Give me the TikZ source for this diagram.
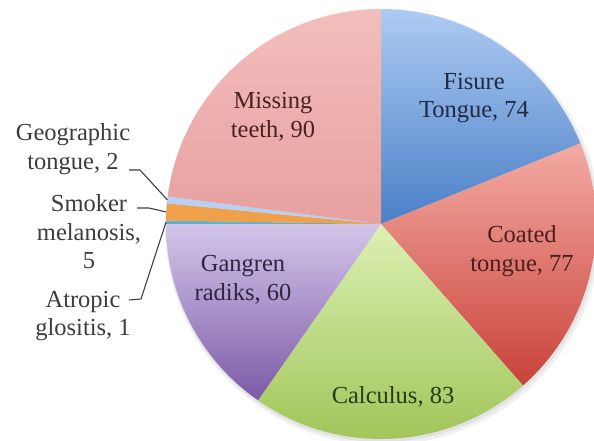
\documentclass[tikz,border=0pt]{standalone}
\usepackage{fontspec}
\setmainfont{Liberation Serif}
\usetikzlibrary{calc}
\definecolor{fisuretop}{HTML}{AECBF2}
\definecolor{fisurebot}{HTML}{4A7FC7}
\definecolor{coatedtop}{HTML}{F4ABA3}
\definecolor{coatedbot}{HTML}{C8423A}
\definecolor{calctop}{HTML}{DDF0B2}
\definecolor{calcbot}{HTML}{9CC254}
\definecolor{gangtop}{HTML}{D3C6EA}
\definecolor{gangbot}{HTML}{7C5AA6}
\definecolor{misstop}{HTML}{F3BEBD}
\definecolor{missbot}{HTML}{E6A09F}
\definecolor{smoker}{HTML}{F0A04A}
\definecolor{geo}{HTML}{B8D0F2}
\definecolor{atropic}{HTML}{5FB2CC}
\definecolor{labelgray}{HTML}{3C3C3C}
\definecolor{fisuretext}{HTML}{1F2B45}
\definecolor{coatedtext}{HTML}{4A1F1D}
\definecolor{calctext}{HTML}{2B3A14}
\definecolor{gangtext}{HTML}{2D2542}
\definecolor{misstext}{HTML}{4A2121}
\tikzstyle{inlabel}=[align=center,inner sep=0pt,font=\fontsize{24.5}{28.5}\selectfont]
\tikzstyle{outlabel}=[inlabel,text=labelgray]
\tikzstyle{leader}=[draw=black!75,line width=1.1pt]

\begin{document}
\begin{tikzpicture}[x=1pt,y=1pt]
\useasboundingbox (0,0) rectangle (594,441);

\coordinate (c) at (381,217);

% soft shadow
\fill[black,opacity=0.06] (383,214) circle (218pt);
\fill[black,opacity=0.06] (382,215) circle (216pt);

% slices
\shade[top color=fisuretop,bottom color=fisurebot] (c) -- ++(90:215pt) arc (90:22.041:215pt) -- cycle;
\shade[top color=coatedtop,bottom color=coatedbot] (c) -- ++(22.041:215pt) arc (22.041:-48.673:215pt) -- cycle;
\shade[top color=calctop,bottom color=calcbot] (c) -- ++(-48.673:215pt) arc (-48.673:-124.898:215pt) -- cycle;
\shade[top color=gangtop,bottom color=gangbot] (c) -- ++(-124.898:215pt) arc (-124.898:-180:215pt) -- cycle;
\fill[atropic] (c) -- ++(-180:215pt) arc (-180:-180.918:215pt) -- cycle;
\fill[smoker] (c) -- ++(-180.918:215pt) arc (-180.918:-185.510:215pt) -- cycle;
\fill[geo] (c) -- ++(-185.510:215pt) arc (-185.510:-187.347:215pt) -- cycle;
\shade[top color=misstop,bottom color=missbot] (c) -- ++(-187.347:215pt) arc (-187.347:-270:215pt) -- cycle;

% labels inside
\node[inlabel,text=fisuretext] (fisure) at (474,343) {Fisure\\Tongue, 74};
\node[inlabel,text=coatedtext] (coated) at (522,190) {Coated\\tongue, 77};
\node[inlabel,text=calctext] (calculus) at (393,44) {Calculus, 83};
\node[inlabel,text=gangtext] (gangren) at (243,161) {Gangren\\radiks, 60};
\node[inlabel,text=misstext] (missing) at (273,324) {Missing\\teeth, 90};

% labels outside
\node[outlabel] (geographic) at (73,292) {Geographic\\tongue, 2};
\node[outlabel] (smokerlbl) at (89,209) {Smoker\\melanosis,\\5};
\node[outlabel] (atropiclbl) at (83,125) {Atropic\\glositis, 1};

\coordinate (geoA) at (129,271);
\coordinate (geoK) at (140,271);
\coordinate (geoE) at ($(c)+(173.57:215pt)$);
\coordinate (smkA) at (137,233);
\coordinate (smkK) at (149,233);
\coordinate (smkE) at ($(c)+(176.8:215pt)$);
\coordinate (atrA) at (129,141);
\coordinate (atrK) at (141,142);
\coordinate (atrE) at ($(c)+(179.54:215pt)$);

\draw[leader] (geoA) -- (geoK) -- (geoE);
\draw[leader] (smkA) -- (smkK) -- (smkE);
\draw[leader] (atrA) -- (atrK) -- (atrE);

\end{tikzpicture}
\end{document}
